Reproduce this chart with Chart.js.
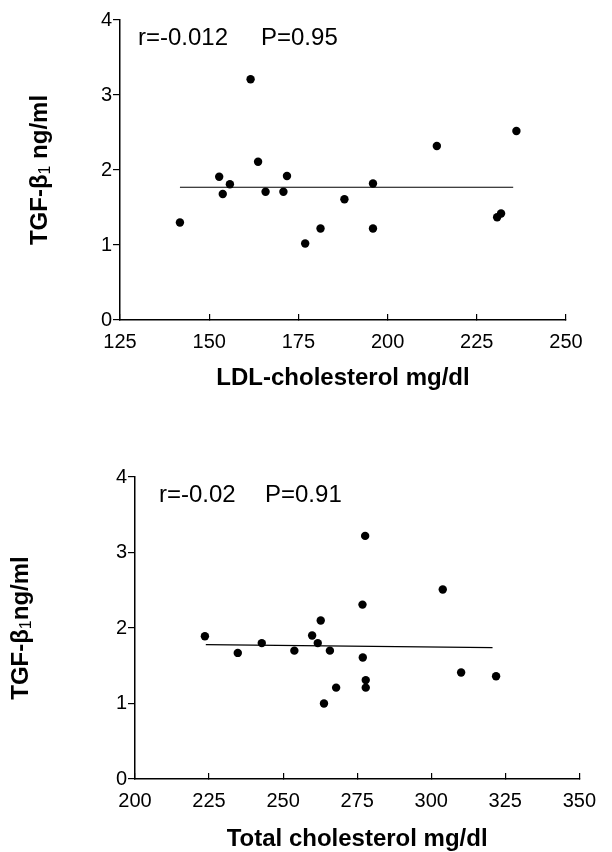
<!DOCTYPE html>
<html>
<head>
<meta charset="utf-8">
<script src="https://cdn.jsdelivr.net/npm/chart.js@4.4.1/dist/chart.umd.min.js"></script>
<style>
  html, body { margin: 0; padding: 0; background: #fff; }
  #topBox { position: absolute; left: 0; top: 0; width: 612px; height: 400px; }
  #bottomBox { position: absolute; left: 0; top: 420px; width: 612px; height: 432px; }
</style>
</head>
<body>
<div id="topBox"><canvas id="ldlChart"></canvas></div>
<div id="bottomBox"><canvas id="totalChart"></canvas></div>
<script>
// values
const ldlChol = [141.8, 152.8, 153.8, 155.8, 161.6, 163.7, 165.8, 170.8, 171.8, 176.9, 181.2, 187.9, 195.9, 195.9, 213.8, 230.7, 231.8, 236.1];
const ldlTgf  = [1.30, 1.91, 1.68, 1.81, 3.21, 2.11, 1.71, 1.71, 1.92, 1.02, 1.22, 1.61, 1.82, 1.22, 2.32, 1.37, 1.42, 2.52];
const ldlFitX = [141.8, 235.2];
const ldlFitY = [1.77, 1.77];

const totalChol = [223.6, 234.7, 242.8, 253.8, 259.8, 261.7, 262.7, 265.8, 263.8, 267.9, 276.8, 276.9, 277.7, 277.9, 277.9, 303.9, 310.1, 321.9];
const totalTgf  = [1.89, 1.67, 1.80, 1.70, 1.90, 1.80, 2.10, 1.70, 1.00, 1.21, 2.31, 1.61, 3.22, 1.31, 1.21, 2.51, 1.41, 1.36];
const totalFitX = [223.9, 320.7];
const totalFitY = [1.78, 1.74];

const tgfTicks = [0, 1, 2, 3, 4];
const ldlTicks = [125, 150, 175, 200, 225, 250];
const totalTicks = [200, 225, 250, 275, 300, 325, 350];

Chart.defaults.font.family = "'Liberation Sans', Arial, sans-serif";
Chart.defaults.color = '#000';

const toPoints = (xs, ys) => xs.map((x, i) => ({ x: x, y: ys[i] }));

// stats text and the y title (with subscript) drawn on the canvas
const textPlugin = {
  id: 'figText',
  afterDraw(chart, args, opts) {
    const ctx = chart.ctx;
    const area = chart.chartArea;
    ctx.save();
    ctx.fillStyle = '#000';
    ctx.font = "24px 'Liberation Sans', Arial, sans-serif";
    ctx.textBaseline = 'alphabetic';
    opts.stats.forEach(s => ctx.fillText(s.text, area.left + s.dx, area.top + opts.statsDy));

    // y title
    const cy = (area.top + area.bottom) / 2;
    ctx.translate(opts.yTitleX, cy);
    ctx.rotate(-Math.PI / 2);
    const big = "bold 24px 'Liberation Sans', Arial, sans-serif";
    const small = "16px 'Liberation Sans', Arial, sans-serif";
    ctx.font = big;
    const w1 = ctx.measureText(opts.yTitle[0]).width;
    const w3 = ctx.measureText(opts.yTitle[2]).width;
    ctx.font = small;
    const w2 = ctx.measureText(opts.yTitle[1]).width;
    let x = -(w1 + w2 + w3) / 2;
    ctx.textBaseline = 'middle';
    ctx.font = big;
    ctx.fillText(opts.yTitle[0], x, 0);
    x += w1;
    ctx.font = small;
    ctx.fillText(opts.yTitle[1], x, 6);
    x += w2;
    ctx.font = big;
    ctx.fillText(opts.yTitle[2], x, 0);
    ctx.restore();
  }
};

function makeChart(id, xs, ys, fitX, fitY, xTicks, xTitle, titlePadBottom, layoutPad, yWidth, xHeight, text) {
  return new Chart(document.getElementById(id), {
    type: 'scatter',
    data: {
      datasets: [
        {
          data: toPoints(xs, ys),
          backgroundColor: '#000',
          borderWidth: 0,
          pointRadius: 4.2,
          clip: false
        },
        {
          type: 'line',
          data: toPoints(fitX, fitY),
          borderColor: '#000',
          borderWidth: 1.2,
          pointRadius: 0,
          fill: false
        }
      ]
    },
    options: {
      responsive: true,
      maintainAspectRatio: false,
      animation: false,
      layout: { padding: layoutPad },
      plugins: {
        legend: { display: false },
        tooltip: { enabled: false },
        figText: text
      },
      scales: {
        x: {
          type: 'linear',
          min: xTicks[0],
          max: xTicks[xTicks.length - 1],
          afterBuildTicks: s => { s.ticks = xTicks.map(v => ({ value: v })); },
          afterFit: s => { s.height = xHeight; },
          grid: { drawOnChartArea: false, tickLength: -6, color: '#000', lineWidth: 1.2 },
          border: { color: '#000', width: 1.5 },
          ticks: { padding: 16, font: { size: 20 }, maxRotation: 0 },
          title: {
            display: true,
            text: xTitle,
            font: { size: 24, weight: 'bold' },
            padding: { top: 0, bottom: titlePadBottom }
          }
        },
        y: {
          min: 0,
          max: 4,
          afterBuildTicks: s => { s.ticks = tgfTicks.map(v => ({ value: v })); },
          afterFit: s => { s.width = yWidth; },
          grid: { drawOnChartArea: false, tickLength: 7, color: '#000', lineWidth: 1.2 },
          border: { color: '#000', width: 1.5 },
          ticks: { padding: 1, font: { size: 20 } }
        }
      }
    },
    plugins: [textPlugin]
  });
}

makeChart('ldlChart', ldlChol, ldlTgf, ldlFitX, ldlFitY, ldlTicks, 'LDL-cholesterol mg/dl', 7,
  { top: 20, right: 46, bottom: 0, left: 0 }, 120, 80,
  {
    stats: [{ text: 'r=-0.012', dx: 18 }, { text: 'P=0.95', dx: 141 }],
    statsDy: 25,
    yTitleX: 40,
    yTitle: ['TGF-\u03B2', '1', ' ng/ml']
  });

makeChart('totalChart', totalChol, totalTgf, totalFitX, totalFitY, totalTicks, 'Total cholesterol mg/dl', -2,
  { top: 57, right: 18, bottom: 0, left: 0 }, 135, 73,
  {
    stats: [{ text: 'r=-0.02', dx: 24 }, { text: 'P=0.91', dx: 130 }],
    statsDy: 25,
    yTitleX: 21,
    yTitle: ['TGF-\u03B2', '1', 'ng/ml']
  });
</script>
</body>
</html>
